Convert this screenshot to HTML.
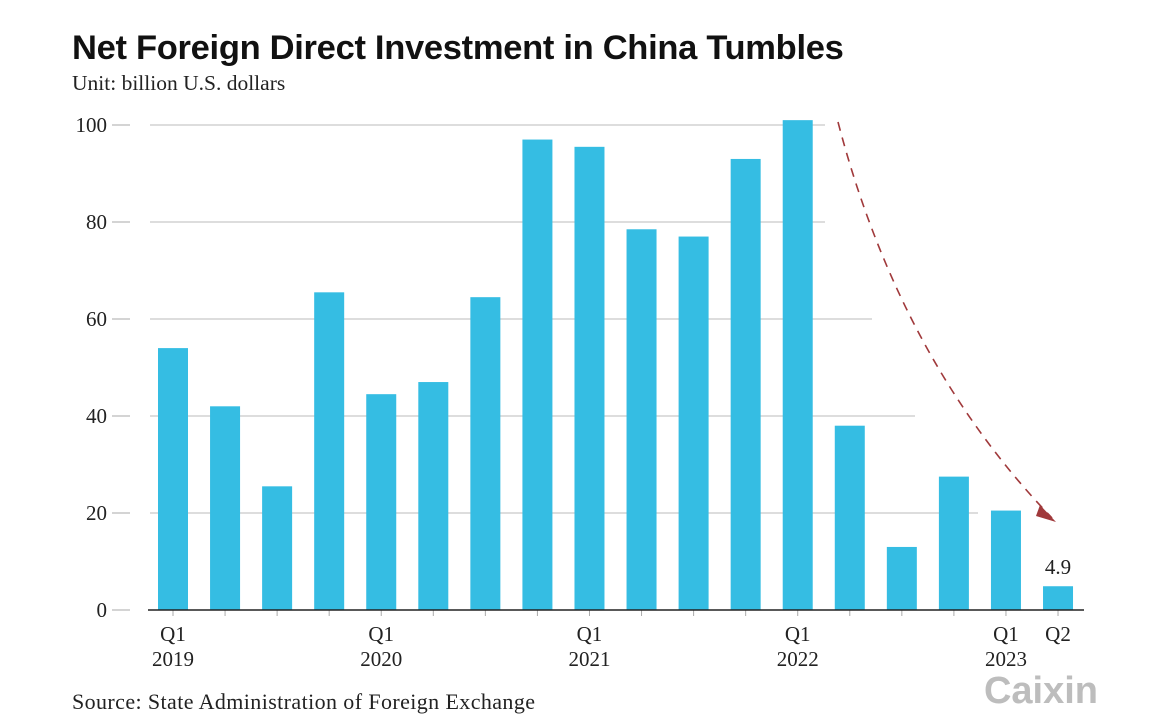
<!DOCTYPE html>
<html><head><meta charset="utf-8"><style>
body{margin:0;background:#fff;}
svg text{font-family:"Liberation Serif",serif;}
</style></head><body>
<svg width="1170" height="721" viewBox="0 0 1170 721" xmlns="http://www.w3.org/2000/svg">
<text x="72" y="59" style="font-family:'Liberation Sans',sans-serif;font-weight:bold;font-size:34.5px;letter-spacing:-0.3px" fill="#111">Net Foreign Direct Investment in China Tumbles</text>
<text x="72" y="90" font-size="21.5" fill="#222">Unit: billion U.S. dollars</text>
<g id="grid"></g>
<g id="bars"></g>
<g id="xaxis"></g>
<path d="M838,122 Q900,360 1052,518" fill="none" stroke="#a0393b" stroke-width="1.6" stroke-dasharray="9,7"/>
<path d="M1040,505 L1056,522 L1036,516 Z" fill="#a0393b"/>
<text x="72" y="709" font-size="22" letter-spacing="0.4" fill="#222">Source: State Administration of Foreign Exchange</text>
<text x="1098" y="703" text-anchor="end" style="font-family:'Liberation Sans',sans-serif;font-weight:bold;font-size:38px" fill="#bdbdbd">Caixin</text>
</svg>
<script>
const categories=["Q1 2019","Q2 2019","Q3 2019","Q4 2019","Q1 2020","Q2 2020","Q3 2020","Q4 2020","Q1 2021","Q2 2021","Q3 2021","Q4 2021","Q1 2022","Q2 2022","Q3 2022","Q4 2022","Q1 2023","Q2 2023"];
const values=[54,42,25.5,65.5,44.5,47,64.5,97,95.5,78.5,77,93,101,38,13,27.5,20.5,4.9];
const yTicks=[0,20,40,60,80,100];
const gridEnds=[1083,978,915,872,825,825];
const xLabels=[[0,"Q1","2019"],[4,"Q1","2020"],[8,"Q1","2021"],[12,"Q1","2022"],[16,"Q1","2023"],[17,"Q2",""]];
const NS="http://www.w3.org/2000/svg";
const y=v=>610-v*4.85;
const xc=i=>173+i*52.06;
function mk(t,a,p){const e=document.createElementNS(NS,t);for(const k in a)e.setAttribute(k,a[k]);p.appendChild(e);return e;}
const grid=document.getElementById('grid'),bars=document.getElementById('bars'),xa=document.getElementById('xaxis');
yTicks.forEach((v,i)=>{
 const l=mk('line',{x1:112,x2:130,y1:y(v),y2:y(v),stroke:'#aaa','stroke-width':1},grid);
 
 
 if(v>0){const g=mk('line',{x1:150,x2:gridEnds[i],y1:y(v),y2:y(v),stroke:'#bbb','stroke-width':1},grid);
 
 }
 const t=mk('text',{x:107,y:y(v)+7,'text-anchor':'end','font-size':21,fill:'#222'},grid);
 t.textContent=v;
 
 
});
values.forEach((v,i)=>{
 const r=mk('rect',{x:xc(i)-15,y:y(v),width:30,height:y(0)-y(v),fill:'#35bde3'},bars);
 
 
 const tk=mk('line',{x1:xc(i),x2:xc(i),y1:y(0),y2:y(0)+6,stroke:'#aaa'},xa);
 
 
});
const base=mk('line',{x1:148,x2:1084,y1:y(0),y2:y(0),stroke:'#222','stroke-width':1.5},xa);


const last=values.length-1;
const vl=mk('text',{x:xc(last),y:y(values[last])-12,'text-anchor':'middle','font-size':21,fill:'#222'},bars);
vl.textContent=values[last];


xLabels.forEach(([i,q,yr])=>{
 const t=mk('text',{x:xc(i),y:641,'text-anchor':'middle','font-size':21,fill:'#222'},xa);
 t.textContent=q;
 
 
 if(yr){const t2=mk('text',{x:xc(i),y:666,'text-anchor':'middle','font-size':21,fill:'#222'},xa);
 t2.textContent=yr;
 
 }
});
</script>
</body></html>
